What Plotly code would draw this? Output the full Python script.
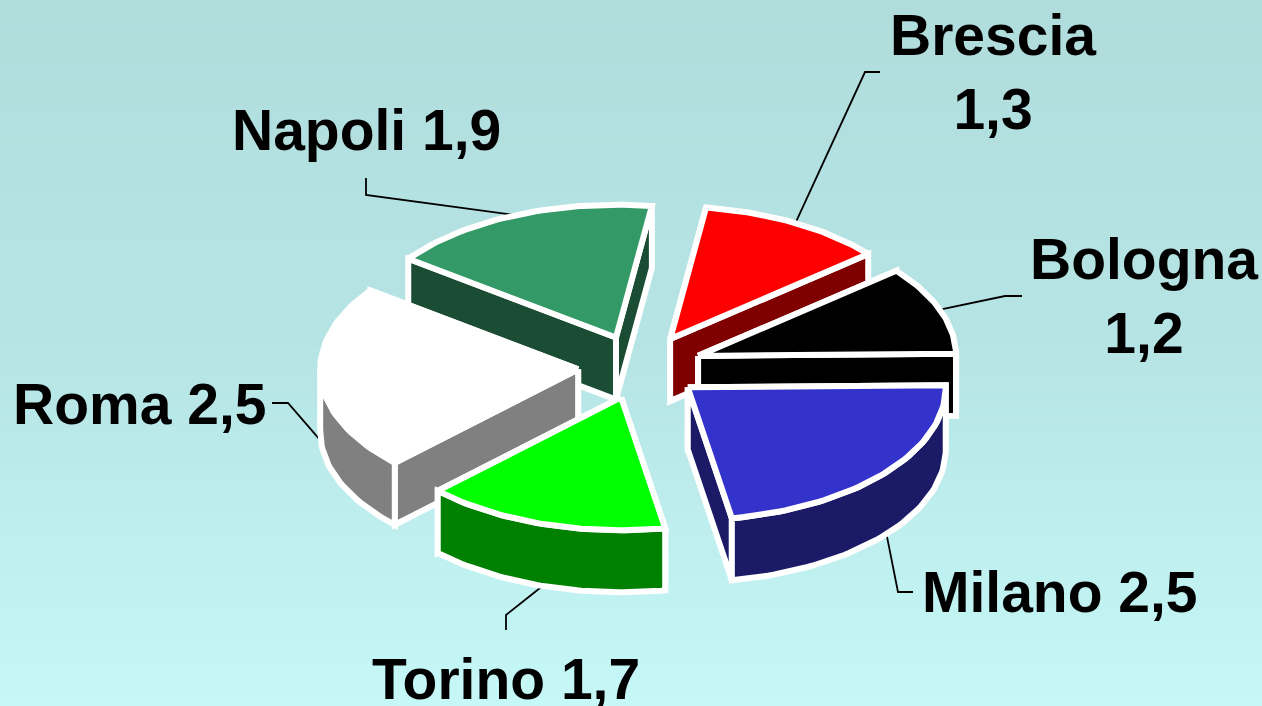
import numpy as np
import plotly.graph_objects as go

cities = ["Brescia", "Bologna", "Milano", "Torino", "Roma", "Napoli"]
values = [1.3, 1.2, 2.5, 1.7, 2.5, 1.9]
top_colors = ["#FF0000", "#000000", "#3333CC", "#00FF00", "#FFFFFF", "#339966"]
side_colors = ["#800000", "#000000", "#1A1A66", "#008000", "#808080", "#1A4D33"]
labels = ["Brescia<br>1,3", "Bologna<br>1,2", "Milano 2,5", "Torino 1,7", "Roma 2,5", "Napoli 1,9"]
label_xy = [(993, 72), (1144, 296), (1060, 592), (506, 679), (139, 404), (366, 130)]
leader_bend = [[(865, 72), (880, 72)], [(1005, 296), (1022, 296)], [(898, 592), (913, 592)],
               [(506, 615), (506, 630)], [(288, 403), (272, 403)], [(366, 195), (366, 178)]]
bg_positions = [0, 353, 706]
bg_levels = [0, 0.3, 1]

CX, CY, R, K, DEPTH, EXPLODE, START = 640.0, 367.0, 258.0, 0.515, 62.0, 62.0, 8.0
OUT = "#FFFFFF"
OUT_W = 6


def project(theta, r):
    t = np.radians(theta)
    return r * np.sin(t), -r * K * np.cos(t)


fig = go.Figure()
fig.add_trace(go.Heatmap(z=[[lv, lv] for lv in bg_levels], x=[0, 1262], y=bg_positions,
                         showscale=False, hoverinfo="skip", zsmooth="best", zmin=0, zmax=1,
                         colorscale=[[0, "#B0DCDC"], [1, "#C6F8F8"]]))

total = sum(values)
slices = []
a0 = START
for i, v in enumerate(values):
    a1 = a0 + 360 * v / total
    mid = (a0 + a1) / 2
    dx, dy = project(mid, EXPLODE)
    ax, ay = CX + dx, CY + dy
    th = np.linspace(a0, a1, 60)
    ex, ey = project(th, R)
    ex, ey = ax + ex, ay + ey
    walls = []
    for idx in (0, -1):
        walls.append((ey[idx], [ax, ex[idx], ex[idx], ax, ax],
                      [ay, ey[idx], ey[idx] + DEPTH, ay + DEPTH, ay]))
    front = np.cos(np.radians(th)) <= 0.02
    if front.any():
        fx, fy = ex[front], ey[front]
        walls.append((fy.max() + 1, np.r_[fx, fx[::-1], fx[0]], np.r_[fy, fy[::-1] + DEPTH, fy[0]]))
    walls.sort(key=lambda w: w[0])
    mx, my = project(mid, R)
    sy = ay + my + (DEPTH if np.cos(np.radians(mid)) < 0 else 0)
    slices.append(dict(top=(np.r_[ax, ex, ax], np.r_[ay, ey, ay]), walls=walls, leader=(ax + mx, sy)))
    a0 = a1

# leaders go under the slices
for i in range(6):
    sx, sy = slices[i]["leader"]
    pts = [(sx, sy)] + leader_bend[i]
    fig.add_trace(go.Scatter(x=[p[0] for p in pts], y=[p[1] for p in pts], mode="lines",
                             line=dict(color="#000000", width=1.8), hoverinfo="skip", showlegend=False))

for i in [5, 0, 1, 4, 3, 2]:
    for _, wx, wy in slices[i]["walls"]:
        fig.add_trace(go.Scatter(x=wx, y=wy, mode="lines", fill="toself", fillcolor=side_colors[i],
                                 line=dict(color=OUT, width=OUT_W),
                                 hoverinfo="skip", showlegend=False))
    tx, ty = slices[i]["top"]
    fig.add_trace(go.Scatter(x=tx, y=ty, mode="lines", fill="toself", fillcolor=top_colors[i],
                             name=cities[i], line=dict(color=OUT, width=OUT_W), showlegend=False))

for i in range(6):
    fig.add_annotation(x=label_xy[i][0], y=label_xy[i][1], text=f"<b>{labels[i]}</b>", showarrow=False,
                       font=dict(family="Liberation Sans", size=57, color="#000000"),
                       xanchor="center", yanchor="middle", align="center")

fig.update_layout(width=1262, height=706, margin=dict(l=0, r=0, t=0, b=0),
                  paper_bgcolor="#B8E6E6", plot_bgcolor="rgba(0,0,0,0)", showlegend=False)
fig.update_xaxes(range=[0, 1262], visible=False, fixedrange=True)
fig.update_yaxes(range=[706, 0], visible=False, fixedrange=True)
fig.write_html("out.html", config={"displayModeBar": False},
               post_script="document.body.style.margin='0';document.body.style.overflow='hidden';")
